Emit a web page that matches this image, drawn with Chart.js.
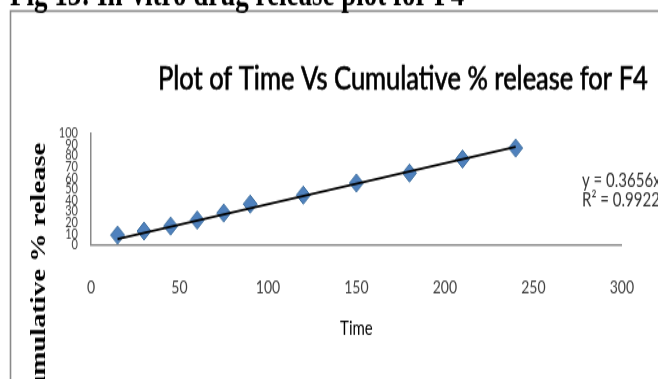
<!DOCTYPE html>
<html>
<head>
<meta charset="utf-8">
<title>Plot of Time Vs Cumulative % release for F4</title>
<script src="https://cdn.jsdelivr.net/npm/chart.js@4.4.0/dist/chart.umd.min.js"></script>
<style>
  html, body { margin: 0; padding: 0; background: #fff; overflow: hidden; }
  /* the source picture is stretched vertically, so the whole chart is drawn short and scaled up */
  #wrap { position: absolute; left: 0; top: 0; width: 658px; height: 292px; transform-origin: 0 0; transform: scaleY(1.298); }
  canvas { position: absolute; left: 0; top: 0; }
</style>
</head>
<body>
<div id="wrap"><canvas id="chart" width="658" height="292"></canvas></div>
<script>
// data
const timeMin = [15, 30, 45, 60, 75, 90, 120, 150, 180, 210, 240];
const releasePct = [8.9, 12.5, 17.0, 22.3, 28.6, 36.6, 44.6, 55.4, 64.3, 76.8, 86.6];
const xTicks = [0, 50, 100, 150, 200, 250, 300];
const yTicks = [0, 10, 20, 30, 40, 50, 60, 70, 80, 90, 100];
const trendSlope = 0.3656;
const trendR2 = "0.9922";

const figCaption = "Fig 13: In-vitro drug release plot for F4";
const chartTitle = "Plot of Time Vs Cumulative % release for F4";
const xTitle = "Time";
const yTitle = "Cumulative % release";

const sans = "Lato, 'Open Sans', sans-serif";
const serif = "'Liberation Serif', 'Times New Roman', serif";

// linear trendline through the origin, as printed on the chart
const trendPts = [timeMin[0], timeMin[timeMin.length - 1]].map(t => ({ x: t, y: trendSlope * t }));

// frame, caption, titles and the equation box
const extras = {
  id: "extras",
  beforeDraw(chart) {
    const ctx = chart.ctx;
    ctx.save();
    ctx.strokeStyle = "#8a8a8a";
    ctx.lineWidth = 1.6;
    ctx.strokeRect(10.5, 8.5, 700, 400);
    ctx.fillStyle = "#000";
    ctx.font = "bold 27px " + serif;
    ctx.textBaseline = "alphabetic";
    ctx.fillText(figCaption, 10, 4);
    ctx.restore();
  },
  afterDraw(chart) {
    const ctx = chart.ctx;
    ctx.save();
    ctx.fillStyle = "#000";
    ctx.strokeStyle = "#000";
    ctx.textBaseline = "alphabetic";
    ctx.font = "100px " + sans;
    const size = 100 * 490 / ctx.measureText(chartTitle).width;
    ctx.font = size + "px " + sans;
    ctx.fillText(chartTitle, 158, 68.6);
    ctx.lineWidth = 0.6;
    ctx.strokeText(chartTitle, 158, 68.6);

    ctx.fillStyle = "#333";
    ctx.font = "15px " + sans;
    ctx.textBaseline = "middle";
    ctx.fillText("y = " + trendSlope + "x", 582, 139.5);
    ctx.fillText("R\u00b2 = " + trendR2, 582, 154);

    ctx.translate(45, 110);
    ctx.rotate(-Math.PI / 2);
    ctx.fillStyle = "#000";
    ctx.font = "bold 22px " + serif;
    ctx.textAlign = "right";
    ctx.textBaseline = "alphabetic";
    ctx.fillText(yTitle, 0, 0);
    ctx.restore();
  }
};

new Chart(document.getElementById("chart"), {
  type: "scatter",
  data: {
    datasets: [
      {
        label: "trend",
        type: "line",
        data: trendPts,
        borderColor: "#000",
        borderWidth: 1.8,
        pointRadius: 0,
        fill: false,
        order: 0
      },
      {
        label: "F4",
        data: timeMin.map((t, i) => ({ x: t, y: releasePct[i] })),
        pointStyle: "rectRot",
        pointRadius: 7,
        pointHoverRadius: 7,
        backgroundColor: "#4f81bd",
        borderColor: "#41719f",
        borderWidth: 1,
        order: 1
      }
    ]
  },
  options: {
    responsive: false,
    animation: false,
    devicePixelRatio: 1,
    layout: { padding: { left: 0, top: 102.5, right: 22, bottom: 0 } },
    plugins: { legend: { display: false }, tooltip: { enabled: false }, title: { display: false } },
    scales: {
      x: {
        type: "linear",
        min: 0,
        max: 300,
        afterBuildTicks: s => { s.ticks = xTicks.map(v => ({ value: v })); },
        afterFit: s => { s.height = 292 - 188.8; },
        grid: { display: false, drawTicks: false },
        border: { display: true, color: "#8a8a8a", width: 1.5 },
        ticks: { color: "#404040", font: { family: sans, size: 14 }, padding: 24, maxRotation: 0 },
        title: { display: true, text: xTitle, color: "#000", font: { family: sans, size: 15 }, padding: { top: 4, bottom: 29.5 } }
      },
      y: {
        type: "linear",
        min: 0,
        max: 100,
        afterBuildTicks: s => { s.ticks = yTicks.map(v => ({ value: v })); },
        afterFit: s => { s.width = 91; },
        grid: { display: false, drawTicks: false },
        border: { display: true, color: "#8a8a8a", width: 1.5 },
        ticks: { color: "#404040", font: { family: sans, size: 11 }, padding: 13, autoSkip: false }
      }
    }
  },
  plugins: [extras]
});
</script>
</body>
</html>
